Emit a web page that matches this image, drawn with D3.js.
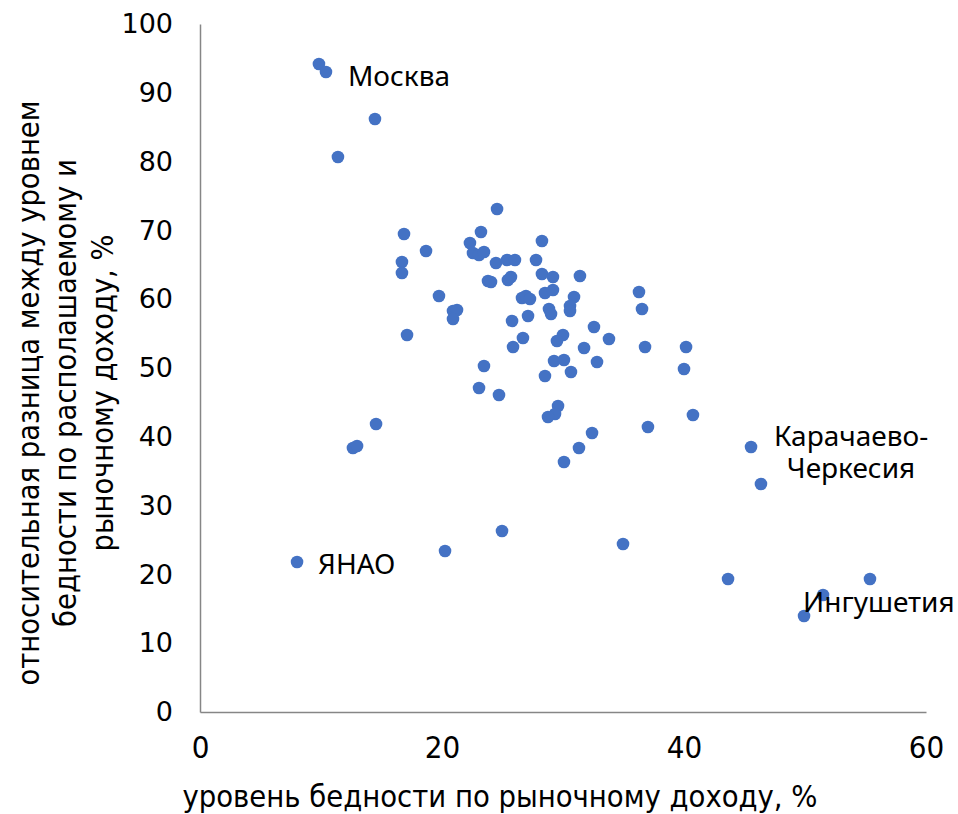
<!DOCTYPE html>
<html>
<head>
<meta charset="utf-8">
<script src="https://cdn.jsdelivr.net/npm/d3@7"></script>
<style>
  body { margin: 0; background: #fff; }
  .title { font-family: "Liberation Sans Narrow", "DejaVu Sans Condensed", sans-serif; fill: #000; }
  .lbl { font-family: "Noto Sans", "Open Sans", sans-serif; fill: #000; }
</style>
</head>
<body>
<div id="chart"></div>
<script>
// data: x = poverty by market income, y = relative difference
var povertyMarket = [
  9.83, 10.41, 14.46, 11.40, 24.55, 16.86, 23.22, 18.68, 22.31, 22.56,
  23.06, 23.47, 24.46, 25.37, 26.03, 27.77, 28.26, 16.69, 16.69, 19.75,
  20.91, 21.24, 20.91, 17.11, 23.80, 24.05, 25.45, 25.70, 28.26, 29.17,
  31.40, 28.51, 29.17, 26.61, 26.94, 27.27, 30.91, 30.58, 30.58, 28.84,
  29.01, 25.79, 27.11, 32.56, 36.28, 36.53, 33.80, 30.00, 29.50, 31.74,
  36.78, 26.69, 25.87, 29.26, 30.08, 32.81, 30.66, 23.47, 23.06, 24.71,
  28.51, 29.59, 29.34, 28.76, 32.40, 37.02, 40.17, 40.00, 40.74, 31.32,
  30.08, 14.55, 12.64, 12.98, 45.54, 46.36, 24.96, 20.25, 34.96, 8.02,
  43.64, 55.37, 51.49, 49.92
];
var povertyGap = [
  94.19, 93.02, 86.19, 80.67, 73.11, 69.48, 69.77, 67.01, 68.17, 66.72,
  66.42, 66.86, 65.26, 65.70, 65.70, 65.70, 68.46, 65.41, 63.81, 60.47,
  58.28, 58.43, 57.12, 54.80, 62.65, 62.50, 62.79, 63.23, 63.66, 63.23,
  63.37, 60.90, 61.34, 60.17, 60.47, 60.03, 60.32, 59.01, 58.28, 58.58,
  57.85, 56.83, 57.56, 55.96, 61.05, 58.58, 54.22, 54.80, 53.92, 52.91,
  53.05, 54.36, 53.05, 51.02, 51.16, 50.87, 49.42, 50.29, 47.09, 46.08,
  48.84, 44.48, 43.31, 42.88, 40.55, 41.42, 53.05, 49.85, 43.17, 38.37,
  36.34, 41.86, 38.37, 38.66, 38.52, 33.14, 26.31, 23.40, 24.42, 21.80,
  19.33, 19.33, 17.01, 13.95
];
var xTicks = [0, 20, 40, 60];
var yTicks = [0, 10, 20, 30, 40, 50, 60, 70, 80, 90, 100];
var labelNames = [["Москва"], ["ЯНАО"], ["Карачаево-", "Черкесия"], ["Ингушетия"]];
var labelIndex = [1, 79, 74, 83];
var xTitle = "уровень бедности по рыночному доходу, %";
var yTitle = ["относительная разница между уровнем", "бедности по располашаемому и", "рыночному доходу, %"];

var width = 958,
    height = 814;
var margin = {top: 24, right: 32, bottom: 102, left: 200};
var iw = width - margin.left - margin.right,
    ih = height - margin.top - margin.bottom;

var svg = d3.select("#chart").append("svg")
    .attr("width", width)
    .attr("height", height);

var g = svg.append("g")
    .attr("transform", "translate(" + margin.left + "," + margin.top + ")");

var x = d3.scaleLinear().domain([0, 60]).range([0, iw]);
var y = d3.scaleLinear().domain([0, 100]).range([ih, 0]);

// axes
var yAxis = g.append("g")
    .call(d3.axisLeft(y).tickValues(yTicks).tickSize(0).tickPadding(27));
yAxis.select(".domain").attr("stroke", "#868686").attr("stroke-width", 1.5);
yAxis.selectAll("text")
    .style("font-family", "'DejaVu Sans', sans-serif")
    .style("font-size", "27px")
    .attr("fill", "#000");

var xAxis = g.append("g")
    .attr("transform", "translate(0," + ih + ")")
    .call(d3.axisBottom(x).tickValues(xTicks).tickSize(0).tickPadding(24));
xAxis.select(".domain").attr("stroke", "#868686").attr("stroke-width", 1.5);
xAxis.selectAll("text")
    .style("font-family", "'Liberation Sans Narrow', 'DejaVu Sans Condensed', sans-serif")
    .style("font-size", "31px")
    .attr("fill", "#000");

// points
var pts = povertyMarket.map(function(v, i){ return {x: v, y: povertyGap[i]}; });
g.selectAll(".dot")
    .data(pts)
  .enter().append("circle")
    .attr("class", "dot")
    .attr("cx", function(d){ return x(d.x); })
    .attr("cy", function(d){ return y(d.y); })
    .attr("r", 6.3)
    .attr("fill", "#4472C4");

// data labels
var labelOffsets = [[22, 14, "start"], [21, 12, "start"], [100, -1, "middle"], [-1, -4, "start"]];
labelNames.forEach(function(lines, k){
    var p = pts[labelIndex[k]], o = labelOffsets[k];
    var t = g.append("text")
        .attr("class", "lbl")
        .attr("text-anchor", o[2])
        .style("font-size", "28px");
    lines.forEach(function(s, j){
        t.append("tspan")
            .attr("x", x(p.x) + o[0])
            .attr("y", y(p.y) + o[1] + j * 32)
            .text(s);
    });
});

// axis titles
svg.append("text")
    .attr("class", "title")
    .attr("x", 500)
    .attr("y", 807)
    .attr("text-anchor", "middle")
    .attr("textLength", 635)
    .attr("lengthAdjust", "spacingAndGlyphs")
    .style("font-size", "30px")
    .text(xTitle);

var yLens = [585, 468, 317];
yTitle.forEach(function(s, j){
    svg.append("text")
        .attr("class", "title")
        .attr("transform", "translate(" + (39 + j * 37) + ",393) rotate(-90)")
        .attr("text-anchor", "middle")
        .attr("textLength", yLens[j])
        .attr("lengthAdjust", "spacingAndGlyphs")
        .style("font-size", "30px")
        .text(s);
});
</script>
</body>
</html>
